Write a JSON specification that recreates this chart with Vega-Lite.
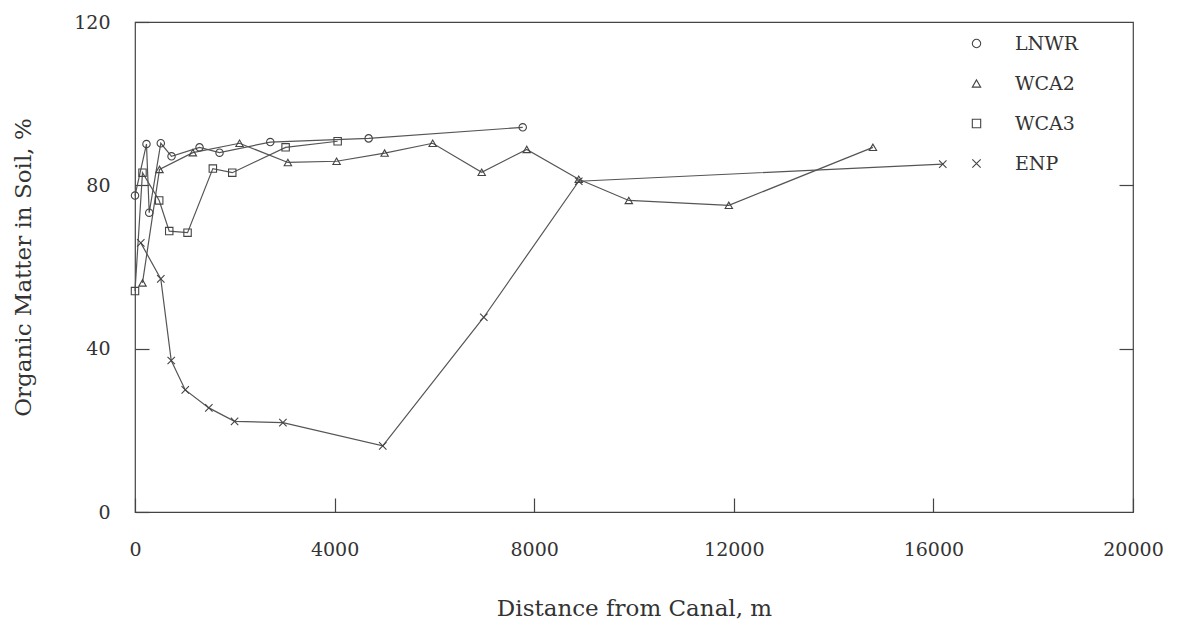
{
  "$schema": "https://vega.github.io/schema/vega-lite/v6.json",
  "width": 998,
  "height": 490,
  "autosize": {"type": "none"},
  "padding": {"left": 135, "top": 22, "right": 48, "bottom": 115},
  "background": "white",
  "config": {
    "view": {"stroke": "#444", "strokeWidth": 1.2},
    "axis": {
      "grid": false,
      "domainColor": "#444",
      "domainWidth": 1.2,
      "tickColor": "#444",
      "tickWidth": 1.2,
      "labelColor": "#333",
      "titleColor": "#333",
      "labelFont": "DejaVu Serif",
      "titleFont": "DejaVu Serif",
      "titleFontWeight": "normal"
    }
  },
  "data": {
    "values": [
      {"s": "LNWR", "x": 0, "y": 77.5},
      {"s": "LNWR", "x": 230, "y": 90.1},
      {"s": "LNWR", "x": 285, "y": 73.3},
      {"s": "LNWR", "x": 517, "y": 90.3},
      {"s": "LNWR", "x": 732, "y": 87.1},
      {"s": "LNWR", "x": 1293, "y": 89.3},
      {"s": "LNWR", "x": 1694, "y": 88.0},
      {"s": "LNWR", "x": 2711, "y": 90.6},
      {"s": "LNWR", "x": 4682, "y": 91.5},
      {"s": "LNWR", "x": 7770, "y": 94.2},
      {"s": "WCA2", "x": 150, "y": 56.1},
      {"s": "WCA2", "x": 491, "y": 83.9},
      {"s": "WCA2", "x": 1159, "y": 88.0},
      {"s": "WCA2", "x": 2095, "y": 90.3},
      {"s": "WCA2", "x": 3064, "y": 85.6},
      {"s": "WCA2", "x": 4040, "y": 85.9},
      {"s": "WCA2", "x": 5003, "y": 87.9},
      {"s": "WCA2", "x": 5966, "y": 90.3},
      {"s": "WCA2", "x": 6948, "y": 83.2},
      {"s": "WCA2", "x": 7850, "y": 88.8},
      {"s": "WCA2", "x": 8893, "y": 81.5},
      {"s": "WCA2", "x": 9896, "y": 76.3},
      {"s": "WCA2", "x": 11900, "y": 75.1},
      {"s": "WCA2", "x": 14788, "y": 89.3},
      {"s": "WCA3", "x": 0, "y": 54.1},
      {"s": "WCA3", "x": 150, "y": 83.1},
      {"s": "WCA3", "x": 485, "y": 76.3},
      {"s": "WCA3", "x": 686, "y": 68.8},
      {"s": "WCA3", "x": 1053, "y": 68.4},
      {"s": "WCA3", "x": 1560, "y": 84.1},
      {"s": "WCA3", "x": 1949, "y": 83.1},
      {"s": "WCA3", "x": 3018, "y": 89.3},
      {"s": "WCA3", "x": 4061, "y": 90.8},
      {"s": "ENP", "x": 116, "y": 65.9},
      {"s": "ENP", "x": 517, "y": 57.1},
      {"s": "ENP", "x": 726, "y": 37.1},
      {"s": "ENP", "x": 1007, "y": 29.9},
      {"s": "ENP", "x": 1480, "y": 25.5},
      {"s": "ENP", "x": 1995, "y": 22.2},
      {"s": "ENP", "x": 2964, "y": 21.9},
      {"s": "ENP", "x": 4965, "y": 16.2},
      {"s": "ENP", "x": 6990, "y": 47.7},
      {"s": "ENP", "x": 8893, "y": 81.0},
      {"s": "ENP", "x": 16188, "y": 85.2}
    ]
  },
  "layer": [
    {
      "mark": {"type": "line", "color": "#555", "strokeWidth": 1.2},
      "encoding": {
        "detail": {"field": "s", "type": "nominal"},
        "x": {
          "field": "x",
          "type": "quantitative",
          "scale": {"domain": [0, 20000], "nice": false},
          "axis": {
            "orient": "bottom",
            "values": [0, 4000, 8000, 12000, 16000, 20000],
            "format": "d",
            "tickSize": -14,
            "domain": false,
            "labelPadding": 42,
            "labelFontSize": 19,
            "labelFlush": false,
            "labelOverlap": false,
            "title": "Distance from Canal, m",
            "titleFontSize": 23,
            "titlePadding": 38
          }
        },
        "y": {
          "field": "y",
          "type": "quantitative",
          "scale": {"domain": [0, 120], "nice": false},
          "axis": {
            "orient": "left",
            "values": [0, 40, 80, 120],
            "tickSize": -14,
            "domain": false,
            "labelPadding": 39,
            "labelFontSize": 19,
            "title": "Organic Matter in Soil, %",
            "titleFontSize": 23,
            "titlePadding": 38
          }
        }
      }
    },
    {
      "mark": {"type": "point", "filled": false, "color": "#444", "strokeWidth": 1.1, "size": 55, "opacity": 1},
      "encoding": {
        "x": {
          "field": "x",
          "type": "quantitative",
          "scale": {"domain": [0, 20000], "nice": false},
          "axis": null
        },
        "y": {
          "field": "y",
          "type": "quantitative",
          "scale": {"domain": [0, 120], "nice": false},
          "axis": {
            "orient": "right",
            "values": [40, 80],
            "tickSize": -14,
            "labels": false,
            "domain": false,
            "title": null
          }
        },
        "shape": {
          "field": "s",
          "type": "nominal",
          "scale": {
            "domain": ["LNWR", "WCA2", "WCA3", "ENP"],
            "range": ["circle", "triangle-up", "square", "M-1,-1L1,1M-1,1L1,-1"]
          },
          "legend": {
            "title": null,
            "orient": "none",
            "legendX": 832,
            "legendY": 12,
            "padding": 0,
            "symbolSize": 70,
            "symbolStrokeColor": "#444",
            "symbolStrokeWidth": 1.1,
            "symbolFillColor": "transparent",
            "labelFont": "DejaVu Serif",
            "labelFontSize": 19,
            "labelColor": "#333",
            "labelOffset": 29,
            "rowPadding": 20
          }
        }
      }
    }
  ],
  "resolve": {"axis": {"y": "independent", "x": "independent"}}
}
